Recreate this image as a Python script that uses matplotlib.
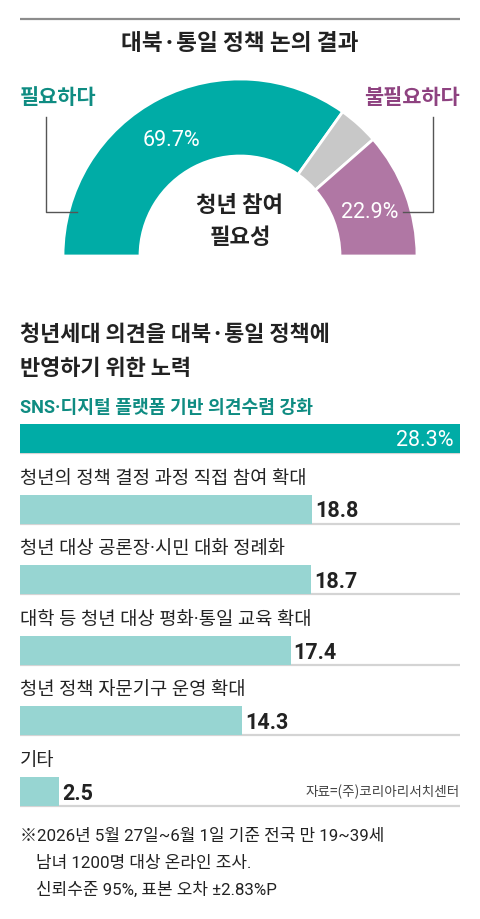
import matplotlib
matplotlib.use("Agg")
import matplotlib.pyplot as plt

# ---- data ----
donut_labels = ["필요하다", "모름/무응답", "불필요하다"]
donut_values = [69.7, 7.4, 22.9]
bar_labels = ["SNS·디지털 플랫폼 기반 의견수렴 강화",
              "청년의 정책 결정 과정 직접 참여 확대",
              "청년 대상 공론장·시민 대화 정례화",
              "대학 등 청년 대상 평화·통일 교육 확대",
              "청년 정책 자문기구 운영 확대",
              "기타"]
bar_values = [28.3, 18.8, 18.7, 17.4, 14.3, 2.5]
bar_value_texts = ["28.3%", "18.8", "18.7", "17.4", "14.3", "2.5"]

TEAL = "#00ACA6"
TEAL_TXT = "#0F8C82"
LTEAL = "#97D5D2"
PURPLE = "#B077A4"
PURPLE_TXT = "#8E4280"
GRAY = "#C8C8C8"
DARK = "#222222"

KR = ["Noto Sans CJK KR", "DejaVu Sans"]
NUMKR = ["Roboto", "Noto Sans CJK KR", "DejaVu Sans"]
NUM = ["Roboto", "DejaVu Sans"]

W, H = 480, 920
fig = plt.figure(figsize=(W / 100, H / 100), dpi=100)
fig.patch.set_facecolor("white")

def fx(x):
    return x / W
def fy(y):
    return 1 - y / H

# ---- donut ----
cx, cy, R, r = 240, 257, 177, 100
dax = fig.add_axes([fx(cx - R), fy(cy + R), 2 * R / W, 2 * R / H])
vals = donut_values + [sum(donut_values)]
wedges, _ = dax.pie(vals, colors=[TEAL, GRAY, PURPLE, "white"], startangle=180,
                    counterclock=False, radius=1,
                    wedgeprops=dict(width=(R - r) / R, edgecolor="white", linewidth=2))
wedges[-1].set_visible(False)
dax.set_xlim(-1, 1)
dax.set_ylim(-1, 1)
dax.axis("off")

# ---- bars ----
top_px, bot_px = 425, 807
h = 0.41
n = len(bar_values)
bax = fig.add_axes([fx(20), fy(bot_px), 440 / W, (bot_px - top_px) / H])
bax.set_xlim(0, bar_values[0])
bax.set_ylim(n - 1 + h / 2, -h / 2)
bax.axis("off")
pos = list(range(n))
colors = [TEAL] + [LTEAL] * (n - 1)
for i in pos:
    bax.plot([0, bar_values[0]], [i + h / 2, i + h / 2], color="#D4D4D4", lw=1.6,
             zorder=1, clip_on=False, solid_capstyle="butt")
bax.barh(pos, bar_values, height=h, color=colors, zorder=2)

for i, (lab, v, vt) in enumerate(zip(bar_labels, bar_values, bar_value_texts)):
    if i == 0:
        bax.text(0, i - h / 2 - 0.24, lab, family=NUMKR, fontsize=13.1, fontweight="bold",
                 color=TEAL_TXT, ha="left", va="center", clip_on=False)
        bax.text(v - 0.45, i + 0.02, vt, family=NUM, fontsize=15.5, color="white",
                 ha="right", va="center")
    else:
        bax.text(0, i - h / 2 - 0.24, lab, family=NUMKR, fontsize=13.5,
                 color=DARK, ha="left", va="center", clip_on=False)
        bax.text(v + 0.2, i + 0.02, vt, family=NUM, fontsize=15.5, fontweight="bold",
                 color=DARK, ha="left", va="center", clip_on=False)

# overlay axes in pixel coordinates (on top)
ov = fig.add_axes([0, 0, 1, 1])
ov.set_zorder(10)
ov.set_xlim(0, W)
ov.set_ylim(H, 0)
ov.axis("off")
ov.patch.set_alpha(0)

ov.plot([20, 460], [20, 20], color="#8C8C8C", lw=1.6, solid_capstyle="butt")
ov.text(240, 43, "대북·통일 정책 논의 결과", family=KR, fontsize=16.3,
        fontweight="bold", color=DARK, ha="center", va="center")

ov.text(171, 141, "69.7%", family=NUM, fontsize=15.5, color="white", ha="center", va="center")
ov.text(370, 212, "22.9%", family=NUM, fontsize=15.5, color="white", ha="center", va="center")
ov.text(240, 205, "청년 참여", family=KR, fontsize=16, fontweight="bold", color=DARK,
        ha="center", va="center")
ov.text(240, 238, "필요성", family=KR, fontsize=16, fontweight="bold", color=DARK,
        ha="center", va="center")

ov.text(20, 98, "필요하다", family=KR, fontsize=15, fontweight="bold", color=TEAL_TXT,
        ha="left", va="center")
ov.text(460, 98, "불필요하다", family=KR, fontsize=15, fontweight="bold", color=PURPLE_TXT,
        ha="right", va="center")
ov.plot([46, 46, 77], [118, 213, 213], color="#555555", lw=1)
ov.plot([433, 433, 403], [118, 213, 213], color="#555555", lw=1)

ov.text(20, 335, "청년세대 의견을 대북·통일 정책에", family=KR, fontsize=15.8,
        fontweight="bold", color=DARK, ha="left", va="center")
ov.text(20, 369, "반영하기 위한 노력", family=KR, fontsize=15.8,
        fontweight="bold", color=DARK, ha="left", va="center")

ov.text(460, 792, "자료=(주)코리아리서치센터", family=KR, fontsize=9.8, color="#444444",
        ha="right", va="center")

ov.text(20, 837, "※2026년 5월 27일~6월 1일 기준 전국 만 19~39세", family=NUMKR, fontsize=12.2,
        color=DARK, ha="left", va="center")
ov.text(36, 864, "남녀 1200명 대상 온라인 조사.", family=NUMKR, fontsize=12.2,
        color=DARK, ha="left", va="center")
ov.text(36, 890, "신뢰수준 95%, 표본 오차 ±2.83%P", family=NUMKR, fontsize=12.2,
        color=DARK, ha="left", va="center")

fig.savefig("out.png", dpi=100, facecolor="white")
